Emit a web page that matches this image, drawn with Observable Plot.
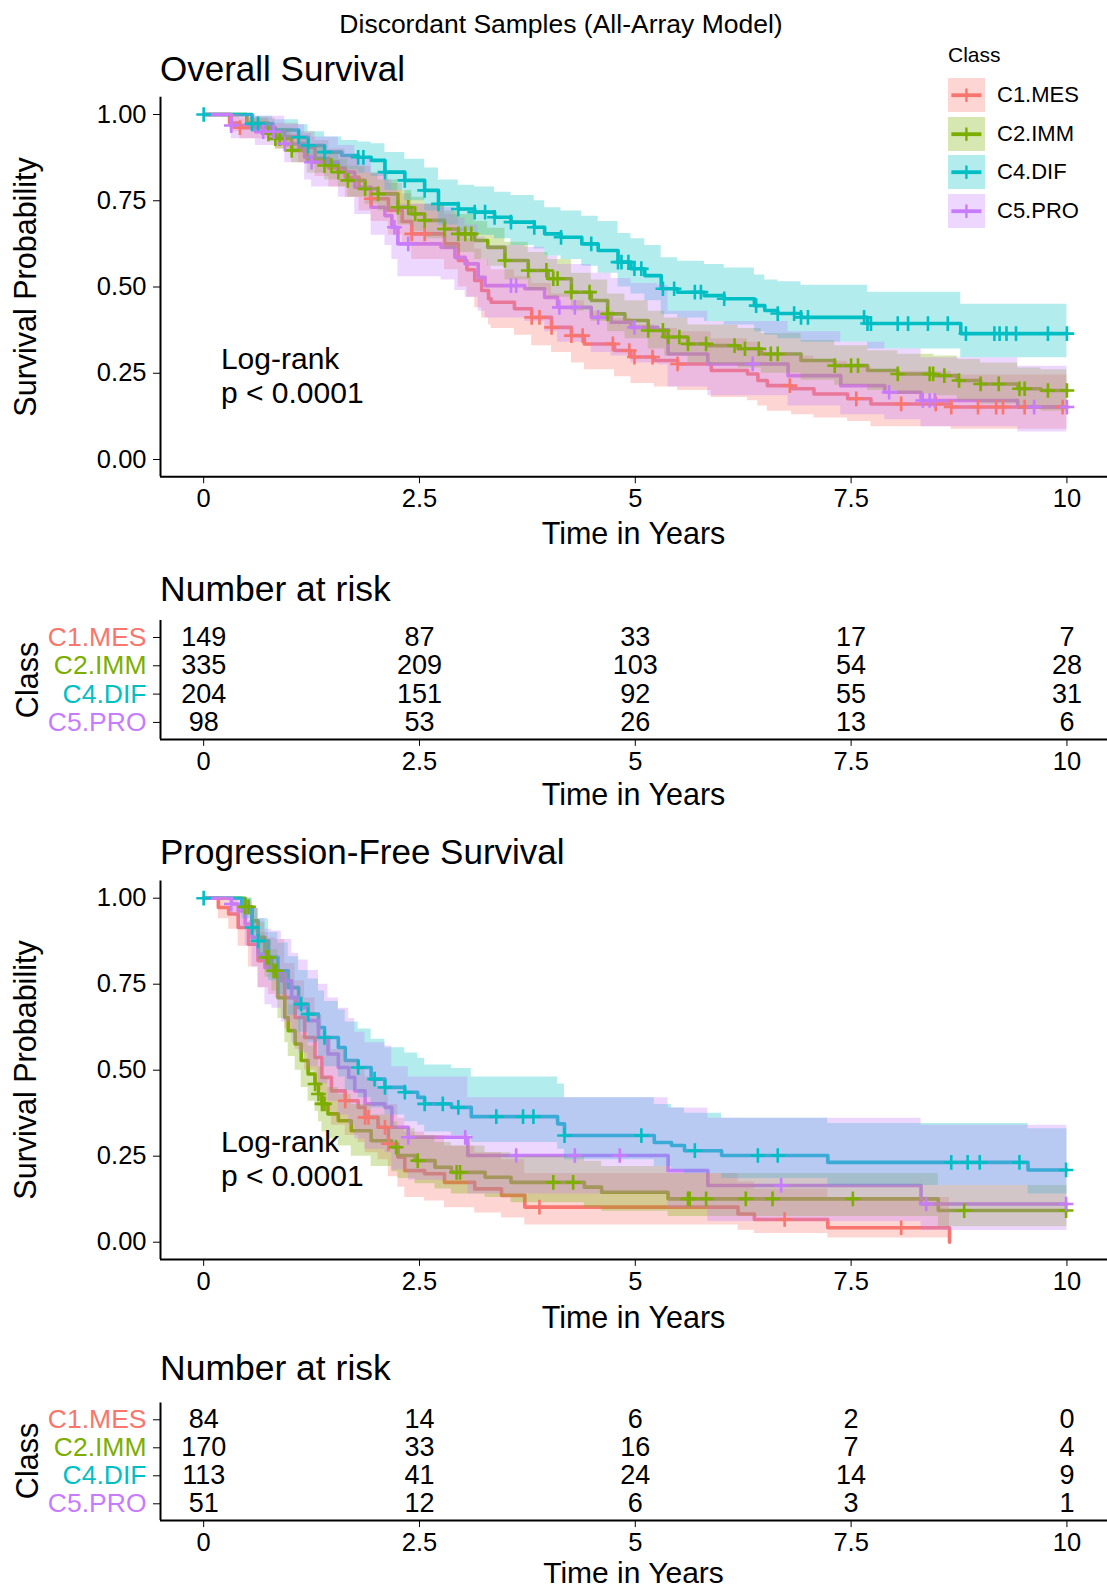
<!DOCTYPE html>
<html><head><meta charset="utf-8">
<script src="https://cdn.jsdelivr.net/npm/d3@7"></script>
<script src="https://cdn.jsdelivr.net/npm/@observablehq/plot@0.6"></script>
<style>
body{margin:0;background:#fff;}
#root{position:relative;width:1107px;height:1591px;overflow:hidden;font-family:"Liberation Sans",Arial,Helvetica,sans-serif;color:#000;}
.abs{position:absolute;white-space:nowrap;line-height:1;}
</style></head><body><div id="root"></div>
<script>
// ---------------- data ----------------
const classes = ["C1.MES", "C2.IMM", "C4.DIF", "C5.PRO"];
const classColors = ["#F8766D", "#7CAE00", "#00BFC4", "#C77CFF"];
const xTicks = [0, 2.5, 5, 7.5, 10];
const yTicks = [0, 0.25, 0.5, 0.75, 1];
const riskTimes = [0, 2.5, 5, 7.5, 10];

// Overall survival
const osTimeMES = [0,.30,.42,.83,1.10,1.29,1.45,1.64,1.80,1.94,2.14,2.30,2.41,2.79,2.95,3.05,3.14,3.22,3.30,3.33,3.60,3.80,4.03,4.26,4.41,4.76,4.95,5.22,5.49,5.88,6.30,6.42,6.53,6.81,7.07,7.46,7.73,8.66,10.0];
const osSurvMES = [1,.975,.962,.936,.905,.872,.845,.818,.785,.756,.722,.690,.654,.625,.577,.550,.519,.490,.466,.456,.437,.412,.383,.359,.335,.316,.297,.287,.277,.258,.248,.229,.214,.205,.190,.176,.161,.152,.152];
const osLowMES  = [1,.95,.93,.90,.86,.82,.79,.76,.72,.69,.65,.62,.58,.55,.50,.47,.44,.41,.39,.38,.36,.33,.31,.28,.26,.24,.22,.21,.20,.18,.17,.155,.14,.13,.12,.11,.095,.088,.088];
const osHighMES = [1,1,.99,.975,.95,.925,.90,.88,.85,.83,.80,.77,.74,.71,.67,.64,.61,.58,.56,.55,.53,.51,.48,.46,.43,.41,.39,.38,.37,.35,.34,.32,.31,.30,.285,.27,.255,.245,.245];
const osCensMES = [0.42,1.94,2.41,2.56,3.80,3.89,4.03,4.26,4.39,4.74,4.93,4.99,5.20,5.49,6.79,7.56,8.08,8.48,8.66,8.97,9.18,9.26,9.51,9.95];

const osTimeIMM = [0,.50,.75,.83,1.02,1.20,1.40,1.56,1.67,1.87,2.02,2.25,2.41,2.56,2.79,2.95,3.14,3.29,3.49,3.76,3.99,4.26,4.49,4.68,4.88,5.15,5.34,5.61,5.84,6.19,6.46,6.92,7.31,7.69,8.04,8.46,8.73,9.00,9.43,9.70,10];
const osSurvIMM = [1,.975,.944,.93,.896,.87,.852,.833,.809,.785,.770,.731,.712,.693,.668,.654,.635,.615,.577,.548,.524,.485,.461,.422,.403,.374,.355,.335,.330,.321,.306,.287,.272,.258,.248,.243,.229,.219,.205,.200,.200];
const osLowIMM  = [1,.96,.92,.90,.86,.83,.81,.79,.76,.74,.72,.68,.66,.64,.61,.60,.58,.56,.52,.49,.47,.43,.40,.37,.35,.32,.30,.28,.275,.265,.25,.23,.215,.20,.19,.185,.17,.16,.145,.14,.14];
const osHighIMM = [1,.99,.97,.96,.93,.91,.89,.87,.85,.83,.81,.78,.76,.74,.72,.71,.69,.67,.63,.60,.58,.54,.52,.48,.46,.43,.41,.39,.39,.38,.365,.345,.33,.315,.305,.30,.29,.28,.265,.26,.26];
const osCensIMM = [0.75,0.83,0.88,1.02,1.40,1.48,1.56,1.67,1.87,2.02,2.25,2.37,2.45,2.56,2.79,2.95,3.03,3.10,3.49,3.76,3.97,4.05,4.10,4.26,4.47,4.68,5.15,5.32,5.38,5.51,5.61,5.82,6.15,6.27,6.43,6.57,6.65,7.31,7.50,7.58,8.04,8.41,8.45,8.58,8.75,9.00,9.21,9.45,9.51,9.78,10.0];

const osTimeDIF = [0,.56,.80,1.10,1.21,1.40,1.60,1.79,1.94,2.10,2.33,2.56,2.72,2.95,3.14,3.37,3.56,3.83,3.95,4.14,4.38,4.57,4.80,4.95,5.11,5.30,5.49,5.80,6.03,6.38,6.50,6.65,6.92,7.69,8.77,10];
const osSurvDIF = [1,.973,.955,.934,.910,.891,.881,.876,.867,.833,.809,.780,.741,.726,.717,.702,.688,.673,.654,.644,.625,.606,.572,.553,.533,.495,.485,.475,.466,.446,.432,.423,.412,.394,.365,.365];
const osLowDIF  = [1,.95,.93,.90,.87,.85,.84,.83,.82,.78,.75,.72,.68,.66,.65,.64,.62,.61,.59,.58,.56,.54,.50,.48,.46,.42,.41,.40,.39,.37,.36,.35,.34,.32,.295,.295];
const osHighDIF = [1,.995,.985,.97,.95,.935,.925,.92,.915,.89,.87,.845,.81,.795,.79,.775,.765,.75,.73,.72,.705,.69,.655,.64,.62,.585,.575,.565,.555,.535,.52,.515,.505,.485,.45,.45];
const osCensDIF = [0,0.56,0.63,1.10,1.21,1.40,1.79,1.85,2.10,2.33,2.56,2.72,2.95,3.14,3.26,3.37,3.56,3.83,4.14,4.49,4.80,4.84,4.92,4.99,5.07,5.32,5.45,5.69,5.76,6.03,6.40,6.65,6.84,6.92,7.00,7.65,7.69,7.73,8.04,8.16,8.39,8.62,8.83,9.16,9.22,9.30,9.41,9.78,10.0];

const osTimePRO = [0,.32,.60,.94,1.17,1.25,1.56,1.75,1.94,2.10,2.18,2.25,2.75,2.91,3.03,3.18,3.26,3.72,3.95,4.10,4.49,4.72,4.95,5.26,5.38,5.84,6.77,7.38,7.89,8.31,9.43,10];
const osSurvPRO = [1,.968,.95,.915,.876,.862,.833,.789,.731,.707,.673,.625,.615,.586,.567,.528,.504,.495,.470,.441,.412,.398,.383,.376,.306,.277,.243,.214,.195,.171,.152,.152];
const osLowPRO  = [1,.93,.91,.86,.81,.79,.76,.71,.65,.62,.58,.53,.52,.49,.47,.43,.41,.40,.37,.34,.31,.30,.28,.275,.21,.185,.155,.13,.115,.095,.08,.08];
const osHighPRO = [1,1,.995,.97,.945,.935,.91,.875,.83,.81,.78,.74,.73,.70,.68,.645,.62,.615,.59,.565,.54,.525,.51,.505,.43,.40,.37,.34,.32,.295,.27,.27];
const osCensPRO = [0.32,0.69,0.81,0.94,1.25,2.21,2.37,3.56,3.62,4.12,4.30,4.57,4.99,6.36,7.94,8.33,8.41,8.47,9.62,10.0];

// Progression-free survival
const pfsTimeMES = [0,.17,.29,.40,.52,.63,.75,.83,.94,1.06,1.17,1.29,1.37,1.48,1.64,1.79,1.87,2.02,2.14,2.25,2.33,2.56,2.79,3.14,3.45,3.72,6.19,6.38,7.23,8.64];
const pfsSurvMES = [1,.973,.954,.915,.866,.818,.798,.789,.711,.653,.595,.537,.479,.440,.411,.392,.363,.334,.286,.247,.208,.199,.174,.155,.136,.102,.082,.066,.042,0];
const pfsLowMES  = [1,.94,.91,.86,.80,.74,.72,.71,.62,.56,.50,.44,.38,.34,.31,.29,.26,.24,.19,.16,.13,.12,.10,.085,.07,.05,.035,.025,.012,0];
const pfsHighMES = [1,1,.995,.97,.935,.90,.885,.88,.81,.76,.71,.66,.60,.56,.53,.51,.48,.45,.40,.36,.32,.31,.28,.26,.24,.20,.175,.155,.13,0];
const pfsCensMES = [1.64,1.87,1.91,2.10,2.14,3.89,6.73,8.08];

const pfsTimeIMM = [0,.48,.56,.63,.71,.79,.86,.94,.98,1.06,1.13,1.21,1.29,1.33,1.37,1.44,1.56,1.71,1.94,2.18,2.25,2.45,2.68,2.87,3.26,3.56,4.41,4.61,5.38,8.51,10];
const pfsSurvIMM = [1,.975,.934,.886,.828,.789,.711,.653,.615,.576,.528,.489,.460,.431,.402,.373,.353,.324,.295,.276,.252,.237,.218,.203,.189,.174,.160,.145,.126,.092,.092];
const pfsLowIMM  = [1,.95,.90,.84,.77,.73,.65,.58,.54,.50,.45,.41,.38,.35,.32,.30,.28,.25,.22,.205,.185,.17,.155,.14,.13,.115,.10,.09,.075,.045,.045];
const pfsHighIMM = [1,1,.97,.93,.88,.85,.78,.72,.69,.65,.60,.57,.54,.51,.48,.45,.43,.40,.37,.35,.33,.31,.29,.28,.26,.25,.235,.22,.20,.165,.165];
const pfsCensIMM = [0.48,0.52,0.73,0.75,0.81,0.84,1.29,1.33,1.37,1.40,2.23,2.48,2.93,2.97,4.05,4.28,5.61,5.63,5.82,6.28,6.59,7.52,8.81,9.99];

const pfsTimeDIF = [0,.44,.56,.63,.75,.86,.98,1.10,1.21,1.33,1.40,1.56,1.64,1.79,1.94,2.10,2.33,2.48,2.56,2.87,3.10,4.10,4.18,5.22,5.42,5.57,6.00,7.23,9.55,10];
const pfsSurvDIF = [1,.973,.915,.876,.828,.789,.740,.692,.663,.624,.595,.566,.528,.508,.474,.450,.436,.421,.402,.392,.365,.344,.310,.290,.281,.266,.252,.232,.210,.210];
const pfsLowDIF  = [1,.94,.87,.82,.76,.72,.66,.61,.58,.54,.51,.48,.44,.42,.39,.37,.35,.34,.32,.31,.29,.27,.24,.22,.21,.20,.185,.165,.14,.14];
const pfsHighDIF = [1,1,.97,.94,.90,.87,.83,.79,.765,.73,.70,.675,.64,.62,.59,.565,.55,.535,.515,.505,.48,.46,.42,.40,.39,.375,.36,.345,.33,.33];
const pfsCensDIF = [0,0.56,0.63,1.13,1.21,1.40,1.79,1.98,2.10,2.33,2.56,2.77,2.95,3.39,3.70,3.82,4.18,5.07,5.69,6.42,6.65,8.66,8.85,8.99,9.45,9.99];

const pfsTimePRO = [0,.32,.40,.48,.56,.63,.71,.79,.90,1.02,1.10,1.21,1.33,1.44,1.56,1.68,1.75,1.87,2.10,2.18,2.37,3.06,5.38,5.84,8.31,10];
const pfsSurvPRO = [1,.983,.963,.925,.886,.837,.798,.789,.760,.711,.682,.644,.595,.547,.508,.479,.440,.402,.392,.334,.305,.252,.208,.165,.111,.111];
const pfsLowPRO  = [1,.95,.91,.86,.80,.74,.69,.68,.64,.58,.55,.51,.46,.41,.37,.34,.30,.27,.26,.21,.18,.14,.10,.06,.034,.034];
const pfsHighPRO = [1,1,1,.99,.97,.94,.91,.905,.88,.84,.82,.79,.75,.71,.68,.65,.61,.58,.57,.51,.48,.42,.39,.36,.34,.34];
const pfsCensPRO = [0.32,2.37,3.03,3.62,4.30,4.82,6.69,8.37,9.99];

// Numbers at risk
const osRiskMES = [149, 87, 33, 17, 7];
const osRiskIMM = [335, 209, 103, 54, 28];
const osRiskDIF = [204, 151, 92, 55, 31];
const osRiskPRO = [98, 53, 26, 13, 6];
const pfsRiskMES = [84, 14, 6, 2, 0];
const pfsRiskIMM = [170, 33, 16, 7, 4];
const pfsRiskDIF = [113, 41, 24, 14, 9];
const pfsRiskPRO = [51, 12, 6, 3, 1];

// ---------------- drawing ----------------
const root = document.getElementById("root");
const FONT = '"Liberation Sans", Arial, Helvetica, sans-serif';
const X_DOMAIN = [-0.5, 10.47];

function addText(txt, x, y, size, anchor, rotate, color) {
  const d = document.createElement("div");
  d.className = "abs";
  d.textContent = txt;
  d.style.left = x + "px";
  d.style.top = y + "px";
  d.style.fontSize = size + "px";
  d.style.color = color || "#000";
  let tr = anchor === "middle" ? "translate(-50%,-50%)" : "translate(0,-50%)";
  if (rotate) tr += " rotate(-90deg)";
  d.style.transform = tr;
  root.appendChild(d);
}
function place(svg, top) {
  svg.style.position = "absolute";
  svg.style.left = "0px";
  svg.style.top = top + "px";
  root.appendChild(svg);
}
function stepAt(time, surv, t) {
  let v = surv[0];
  for (let i = 0; i < time.length; i++) { if (time[i] <= t + 1e-9) v = surv[i]; else break; }
  return v;
}
function mk(cls, time, surv, low, high, cens) { return {cls, time, surv, low, high, cens}; }

const osSeries = [
  mk("C1.MES", osTimeMES, osSurvMES, osLowMES, osHighMES, osCensMES),
  mk("C2.IMM", osTimeIMM, osSurvIMM, osLowIMM, osHighIMM, osCensIMM),
  mk("C4.DIF", osTimeDIF, osSurvDIF, osLowDIF, osHighDIF, osCensDIF),
  mk("C5.PRO", osTimePRO, osSurvPRO, osLowPRO, osHighPRO, osCensPRO)
];
const pfsSeries = [
  mk("C1.MES", pfsTimeMES, pfsSurvMES, pfsLowMES, pfsHighMES, pfsCensMES),
  mk("C2.IMM", pfsTimeIMM, pfsSurvIMM, pfsLowIMM, pfsHighIMM, pfsCensIMM),
  mk("C4.DIF", pfsTimeDIF, pfsSurvDIF, pfsLowDIF, pfsHighDIF, pfsCensDIF),
  mk("C5.PRO", pfsTimePRO, pfsSurvPRO, pfsLowPRO, pfsHighPRO, pfsCensPRO)
];
const osRisk = [osRiskMES, osRiskIMM, osRiskDIF, osRiskPRO];
const pfsRisk = [pfsRiskMES, pfsRiskIMM, pfsRiskDIF, pfsRiskPRO];

function survChart(ser, height, mt, plotBottom) {
  const rows = ser.flatMap(s => s.time.map((t, i) => ({cls: s.cls, t, s: s.surv[i], lo: s.low[i], hi: s.high[i]})));
  const cens = ser.flatMap(s => s.cens.map(t => ({cls: s.cls, t, s: stepAt(s.time, s.surv, t)})));
  return Plot.plot({
    width: 1107, height, marginLeft: 160, marginRight: 0, marginTop: mt, marginBottom: height - plotBottom,
    x: {domain: X_DOMAIN}, y: {domain: [-0.05, 1.05]},
    color: {domain: classes, range: classColors},
    style: {fontFamily: FONT, fontSize: "25.5px", color: "#000", background: "transparent", overflow: "visible"},
    marks: [
      Plot.line(rows, {x: "t", y: "s", z: "cls", stroke: "cls", curve: "step-after", strokeWidth: 3.6}),
      Plot.areaY(rows, {x: "t", y1: "lo", y2: "hi", z: "cls", fill: "cls", fillOpacity: 0.3, curve: "step-after"}),
      Plot.dot(cens, {x: "t", y: "s", stroke: "cls", fill: "none", symbol: "plus", r: 4.8, strokeWidth: 2.6}),
      Plot.text(["Log-rank\np < 0.0001"], {x: () => 0.2, y: () => 0.245, textAnchor: "start", fontSize: 30, lineHeight: 1.15, fill: "#000"}),
      Plot.ruleX([X_DOMAIN[0]], {stroke: "#000", strokeWidth: 2}),
      Plot.ruleY([-0.05], {stroke: "#000", strokeWidth: 2}),
      Plot.axisY({ticks: yTicks, tickFormat: d3.format(".2f"), tickSize: 7, tickPadding: 7, label: null}),
      Plot.axisX({ticks: xTicks, tickFormat: d => String(d), tickSize: 7, tickPadding: 5, label: null})
    ]
  });
}

function riskChart(risk, height, mt, plotBottom) {
  const rows = [];
  classes.forEach((c, k) => riskTimes.forEach((t, j) => rows.push({cls: c, idx: 4 - k, t, n: risk[k][j]})));
  const labs = classes.map((c, k) => ({cls: c, idx: 4 - k}));
  return Plot.plot({
    width: 1107, height, marginLeft: 160, marginRight: 0, marginTop: mt, marginBottom: height - plotBottom,
    x: {domain: X_DOMAIN}, y: {domain: [0.4, 4.6]},
    color: {domain: classes, range: classColors},
    style: {fontFamily: FONT, fontSize: "25.5px", color: "#000", background: "transparent", overflow: "visible"},
    marks: [
      Plot.text(rows, {x: "t", y: "idx", text: d => String(d.n), fontSize: 27, fill: "#000"}),
      Plot.text(labs, {y: "idx", text: "cls", fill: "cls", frameAnchor: "left", textAnchor: "end", dx: -14, fontSize: 26.5}),
      Plot.ruleX([X_DOMAIN[0]], {stroke: "#000", strokeWidth: 2}),
      Plot.ruleY([0.4], {stroke: "#000", strokeWidth: 2}),
      Plot.axisY({ticks: [1, 2, 3, 4], tickFormat: () => "", tickSize: 7, label: null}),
      Plot.axisX({ticks: xTicks, tickFormat: d => String(d), tickSize: 7, tickPadding: 5, label: null})
    ]
  });
}

// Overall survival
place(survChart(osSeries, 470, 16.75, 396.25), 80);
// Risk table 1
place(riskChart(osRisk, 210, 15, 133.9), 605);
// PFS
place(survChart(pfsSeries, 470, 10.5, 388.9), 870);
// Risk table 2
place(riskChart(pfsRisk, 204, 15.5, 133.1), 1387);

// Titles and axis titles
addText("Discordant Samples (All-Array Model)", 561, 23.5, 26.5, "middle");
addText("Overall Survival", 160, 68, 35, "start");
addText("Survival Probability", 25, 286.5, 30.5, "middle", true);
addText("Time in Years", 633.5, 533, 30.5, "middle");
addText("Number at risk", 160, 590, 35.5, "start");
addText("Class", 27, 679.5, 30.5, "middle", true);
addText("Time in Years", 633.5, 794, 30.5, "middle");
addText("Progression-Free Survival", 160, 851, 35, "start");
addText("Survival Probability", 25, 1069.7, 30.5, "middle", true);
addText("Time in Years", 633.5, 1317, 30.5, "middle");
addText("Number at risk", 160, 1369, 35.5, "start");
addText("Class", 27, 1461, 30.5, "middle", true);
addText("Time in Years", 633.5, 1573, 30, "middle");

// Legend
addText("Class", 948, 54, 21, "start");
classes.forEach((c, i) => {
  const col = classColors[i];
  const top = 78 + i * 38.5;
  const box = document.createElement("div");
  box.style.position = "absolute";
  box.style.left = "948px";
  box.style.top = top + "px";
  box.style.width = "36.7px";
  box.style.height = "34.4px";
  const bg = d3.color(col); bg.opacity = 0.3;
  box.style.background = bg.formatRgb();
  const svg = d3.create("svg").attr("width", 36.7).attr("height", 34.4);
  svg.append("line").attr("x1", 3.4).attr("x2", 33.4).attr("y1", 17.2).attr("y2", 17.2).attr("stroke", col).attr("stroke-width", 3.8);
  svg.append("line").attr("x1", 18.4).attr("x2", 18.4).attr("y1", 10.5).attr("y2", 23.9).attr("stroke", col).attr("stroke-width", 2.4);
  box.appendChild(svg.node());
  root.appendChild(box);
  addText(c, 997, top + 17.2, 22, "start");
});
</script></body></html>
